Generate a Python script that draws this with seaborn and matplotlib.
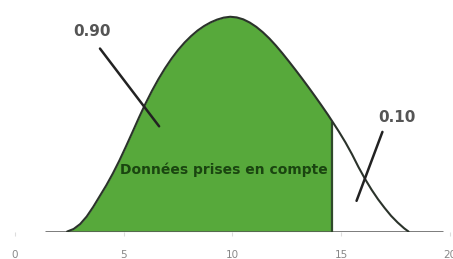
import numpy as np
import pandas as pd
import matplotlib
matplotlib.use("Agg")
import matplotlib.pyplot as plt
import seaborn as sns

# points (x, hauteur relative)
x_courbe = [2.4, 2.7, 3.0, 3.3, 3.6, 3.9, 4.2, 4.5, 4.8, 5.1, 5.4, 5.7, 6.0, 6.3,
            6.6, 6.9, 7.2, 7.5, 7.8, 8.1, 8.4, 8.7, 9.0, 9.3, 9.6, 9.9, 10.2,
            10.5, 10.8, 11.1, 11.4, 11.7, 12.0, 12.3, 12.6, 12.9, 13.2, 13.5,
            13.8, 14.1, 14.4, 14.6, 14.9, 15.2, 15.5, 15.8, 16.1, 16.4, 16.7,
            17.0, 17.3, 17.6, 17.9, 18.1]
y_courbe = [0.0, 0.012, 0.035, 0.07, 0.115, 0.165, 0.215, 0.27, 0.33, 0.395, 0.462,
            0.53, 0.595, 0.655, 0.71, 0.76, 0.805, 0.845, 0.88, 0.91, 0.936, 0.957,
            0.974, 0.987, 0.996, 1.0, 0.997, 0.988, 0.973, 0.953, 0.928, 0.899,
            0.866, 0.83, 0.792, 0.753, 0.713, 0.672, 0.63, 0.587, 0.543, 0.512,
            0.465, 0.415, 0.36, 0.30, 0.245, 0.195, 0.15, 0.11, 0.073, 0.042,
            0.015, 0.0]
seuil = 14.6
aire_gauche = "0.90"
aire_droite = "0.10"
texte_zone = "Données prises en compte"
ticks_x = [0, 5, 10, 15, 20]

df = pd.DataFrame({"x": x_courbe, "y": y_courbe})

sns.set_style("white")
plt.rcParams['font.family'] = ['DejaVu Sans']

fig = plt.figure(figsize=(4.53, 2.59), dpi=100)
ax = fig.add_axes([0.033, 0.106, 0.96, 0.879])

vert = "#57a93b"
trait = "#2b332b"

# zone remplie (gauche du seuil)
gauche = df[df["x"] <= seuil]
ax.fill_between(gauche["x"], 0, gauche["y"], color=vert, lw=0, zorder=1)
y_seuil = df.loc[df["x"] == seuil, "y"].iloc[0]
ax.vlines(seuil, 0, y_seuil, color="#2f4a2a", lw=1.6, zorder=3)

# ligne de base
ax.hlines(0, 1.4, 19.7, color="#555555", lw=1.8, zorder=2)

sns.lineplot(data=df, x="x", y="y", ax=ax, color=trait, lw=1.5, zorder=4)

# traits des annotations
ax.plot([3.91, 6.63], [0.852, 0.49], color="#222222", lw=1.8, zorder=5)
ax.plot([16.9, 15.71], [0.464, 0.143], color="#222222", lw=1.8, zorder=5)

ax.text(3.54, 0.93, aire_gauche, ha="center", va="center", fontsize=11,
        fontweight="bold", color="#555555")
ax.text(17.56, 0.53, aire_droite, ha="center", va="center", fontsize=11,
        fontweight="bold", color="#555555")
ax.text(9.6, 0.286, texte_zone, ha="center", va="center", fontsize=10,
        fontweight="bold", color="#1a4510", zorder=6)

ax.set_xlim(0, 20)
ax.set_ylim(0, 1.06)
ax.set_xticks(ticks_x)
ax.set_xticklabels([str(t) for t in ticks_x])
ax.set_yticks([])
ax.tick_params(axis="x", length=3, color="#dddddd", pad=10,
               labelsize=7.5, labelcolor="#888888", bottom=True)
ax.set_xlabel("")
ax.set_ylabel("")
for s in ax.spines.values():
    s.set_visible(False)

fig.savefig("out.png", dpi=100)
